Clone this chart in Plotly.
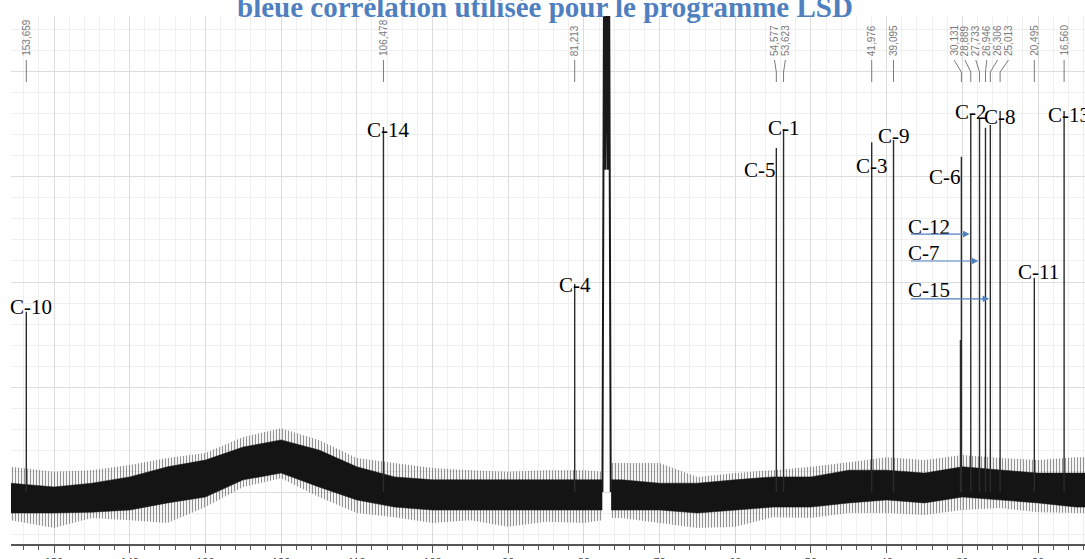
import plotly.graph_objects as go

# pics du spectre 13C (ppm) et hauteurs relatives
ppm_pics = [153.659, 106.478, 81.213, 54.577, 53.623, 41.976, 39.095,
            30.250, 30.131, 28.889, 27.733, 26.946, 26.306, 25.013, 20.495, 16.560]
hauteur_pics = [42.9, 86.9, 49.5, 81.9, 86.4, 83.3, 83.8,
                36.2, 79.8, 90.0, 88.8, 86.7, 87.4, 90.7, 51.0, 90.7]

# triplet du CDCl3 (depasse le cadre)
ppm_solvant = [77.55, 77.32, 77.16, 77.00, 76.84, 76.68, 76.45]
int_solvant = [0, 130, 76.7, 130, 76.7, 130, 0]

# enveloppe du bruit de fond
ppm_bruit = [155.7, 150, 145, 140, 135, 130, 125, 120, 115, 110, 105, 100,
             95, 90, 85, 80, 77.6, 76.4, 75, 70, 65, 60, 55, 50, 45, 40, 35,
             30, 25, 20, 15, 13.8]
bruit_haut = [2.1, 1.2, 2.1, 3.6, 6.0, 7.6, 10.7, 12.4, 10.0, 6.0, 3.6, 2.9,
              2.9, 2.9, 2.9, 2.9, 2.9, 2.9, 2.9, 2.1, 2.1, 2.9, 3.6, 3.6, 5.2, 5.2, 4.5,
              6.0, 5.2, 4.5, 4.5, 4.5]
bruit_bas = [-5.0, -5.0, -4.8, -4.3, -2.6, -1.2, 2.9, 4.5, 1.2, -1.9, -3.6, -4.3,
             -4.3, -4.3, -4.3, -4.3, -4.3, -4.3, -4.3, -4.3, -5.0, -4.3, -3.6, -3.6, -2.6, -1.9, -2.6,
             -1.2, -1.9, -2.6, -3.6, -3.6]
pointes_haut = [6.0, 4.8, 5.2, 6.4, 8.1, 9.3, 13.1, 15.2, 12.4, 8.1, 6.9, 5.7,
                5.2, 4.8, 5.2, 5.2, 4.8, 6.9, 6.9, 6.9, 3.6, 4.5, 5.2, 6.0, 7.1, 8.3, 7.6,
                8.8, 8.1, 7.6, 8.3, 8.3]
pointes_bas = [-6.7, -8.6, -6.2, -6.7, -7.4, -3.6, 1.2, 3.3, -1.2, -5.0, -6.0, -7.4,
               -6.7, -8.3, -7.1, -7.4, -6.7, -6.2, -6.2, -7.4, -8.6, -8.3, -6.0, -6.2, -5.0, -5.0, -5.5,
               -4.3, -3.8, -4.8, -5.0, -5.0]

# etiquettes ppm en haut (groupes de pics proches)
groupes_ppm = [[153.659], [106.478], [81.213], [54.577, 53.623], [41.976], [39.095],
               [30.131, 28.889, 27.733, 26.946, 26.306, 25.013], [20.495], [16.560]]

# attributions
attributions = ['C-10', 'C-14', 'C-4', 'C-5', 'C-1', 'C-3', 'C-9', 'C-6', 'C-2', 'C-8', 'C-13', 'C-11']
ppm_attrib = [153.659, 106.478, 81.213, 54.577, 53.623, 41.976, 39.095, 30.131, 28.889, 25.013, 16.560, 20.495]
fleches = ['C-12', 'C-7', 'C-15']
ppm_fleches = [28.889, 27.733, 26.306]

# placement des textes (pas des donnees)
y_attrib = [44.0, 86.2, 49.3, 76.7, 86.7, 77.6, 84.8, 75.0, 90.5, 89.3, 89.8, 52.4]
a_gauche = ['C-5', 'C-6']
y_fleches_txt = [63.1, 56.9, 48.1]
y_fleches = [61.4, 55.0, 46.0]
depart_fleche = 37.0

SERIF = 'Liberation Serif, Times New Roman, serif'
BLEU = '#4f7fbf'


def px_paper(p):
    # pixel vertical -> coordonnee papier (zone de trace de 16 a 544)
    return (544 - p) / 528


fig = go.Figure()

# bruit : bande de pointes (hachures verticales) puis bande dense, coupee autour du solvant
coupe = ppm_bruit.index(77.6) + 1
for debut, fin in [(0, coupe), (coupe, len(ppm_bruit))]:
    xs = ppm_bruit[debut:fin]
    fig.add_trace(go.Scatter(
        x=xs + xs[::-1],
        y=pointes_haut[debut:fin] + pointes_bas[debut:fin][::-1],
        fill='toself', fillcolor='rgba(0,0,0,0)', mode='lines', line=dict(width=0),
        fillpattern=dict(shape='|', fgcolor='#2a2a2a', bgcolor='rgba(255,255,255,0)',
                         size=3, solidity=0.4),
        hoverinfo='skip', showlegend=False))
    fig.add_trace(go.Scatter(
        x=xs + xs[::-1],
        y=bruit_haut[debut:fin] + bruit_bas[debut:fin][::-1],
        fill='toself', fillcolor='#141414', mode='lines',
        line=dict(width=0.5, color='#141414'), hoverinfo='skip', showlegend=False))

# pics
xp, yp = [], []
for p, h in zip(ppm_pics, hauteur_pics):
    xp += [p, p, None]
    yp += [0, h, None]
fig.add_trace(go.Scatter(x=xp, y=yp, mode='lines', line=dict(color='#2b2b2b', width=1.4),
                         showlegend=False, name='pics'))
fig.add_trace(go.Scatter(x=ppm_solvant, y=int_solvant, mode='lines',
                         line=dict(color='#1a1a1a', width=2), showlegend=False, name='CDCl3'))

# etiquettes ppm verticales + traits de liaison
ecart = 1.44
for groupe in groupes_ppm:
    centre = sum(groupe) / len(groupe)
    n = len(groupe)
    for i, p in enumerate(groupe):
        pos = centre + ((n - 1) / 2 - i) * ecart
        fig.add_annotation(x=pos, y=px_paper(58), yref='paper', text=f'{p:.3f}'.replace('.', ','),
                           textangle=-90, showarrow=False, xanchor='center', yanchor='bottom',
                           font=dict(family='Liberation Sans, Arial', size=10, color='#7a7a7a'))
        fig.add_shape(type='line', x0=pos, x1=p, y0=px_paper(60), y1=px_paper(72),
                      yref='paper', line=dict(color='#7a7a7a', width=1))
        fig.add_shape(type='line', x0=p, x1=p, y0=px_paper(72), y1=px_paper(82),
                      yref='paper', line=dict(color='#7a7a7a', width=1))

# attributions C-n
for nom, p, y in zip(attributions, ppm_attrib, y_attrib):
    if nom in a_gauche:
        fig.add_annotation(x=p, y=y, text=nom, showarrow=False, xanchor='right', xshift=2,
                           font=dict(family=SERIF, size=21, color='black'))
    else:
        fig.add_annotation(x=p, y=y, text=nom, showarrow=False, xanchor='left', xshift=-18,
                           font=dict(family=SERIF, size=21, color='black'))

for nom, p, yt, yf in zip(fleches, ppm_fleches, y_fleches_txt, y_fleches):
    fig.add_annotation(x=depart_fleche, y=yt, text=nom, showarrow=False, xanchor='left', xshift=-3,
                       font=dict(family=SERIF, size=21, color='black'))
    fig.add_annotation(x=p + 0.15, y=yf, ax=depart_fleche, ay=yf, axref='x', ayref='y',
                       text='', showarrow=True, arrowhead=2, arrowsize=1.1, arrowwidth=1.2,
                       arrowcolor=BLEU)

# titre coupe en haut
fig.add_annotation(x=0.5, y=1, xref='paper', yref='paper', xshift=-3, yshift=-9,
                   text='<b>bleue corrélation utilisée pour le programme LSD</b>',
                   showarrow=False, yanchor='bottom',
                   font=dict(family=SERIF, size=29, color=BLEU))

fig.update_layout(
    width=1085, height=559,
    margin=dict(l=11, r=0, t=16, b=15),
    plot_bgcolor='white', paper_bgcolor='white',
    xaxis=dict(range=[155.68, 13.8], tickmode='linear', tick0=0, dtick=10,
               ticks='outside', ticklen=7, tickcolor='#555', showline=True, linecolor='#555',
               linewidth=1.5, showgrid=True, gridcolor='#dcdcdc', zeroline=False,
               tickfont=dict(family='Liberation Sans, Arial', size=11, color='#444'),
               automargin=False,
               minor=dict(dtick=2, ticks='outside', ticklen=4, tickcolor='#555',
                          showgrid=True, gridcolor='#efefef')),
    yaxis=dict(range=[-12.38, 113.33], tick0=0, dtick=25, showticklabels=False,
               showgrid=True, gridcolor='#dcdcdc', zeroline=False, fixedrange=True,
               minor=dict(dtick=5, showgrid=True, gridcolor='#efefef')),
)

# pas de marge de page autour du graphique, pas de barre d'outils
fig.write_html('out.html', config={'displayModeBar': False},
               post_script="document.body.style.margin='0';")
